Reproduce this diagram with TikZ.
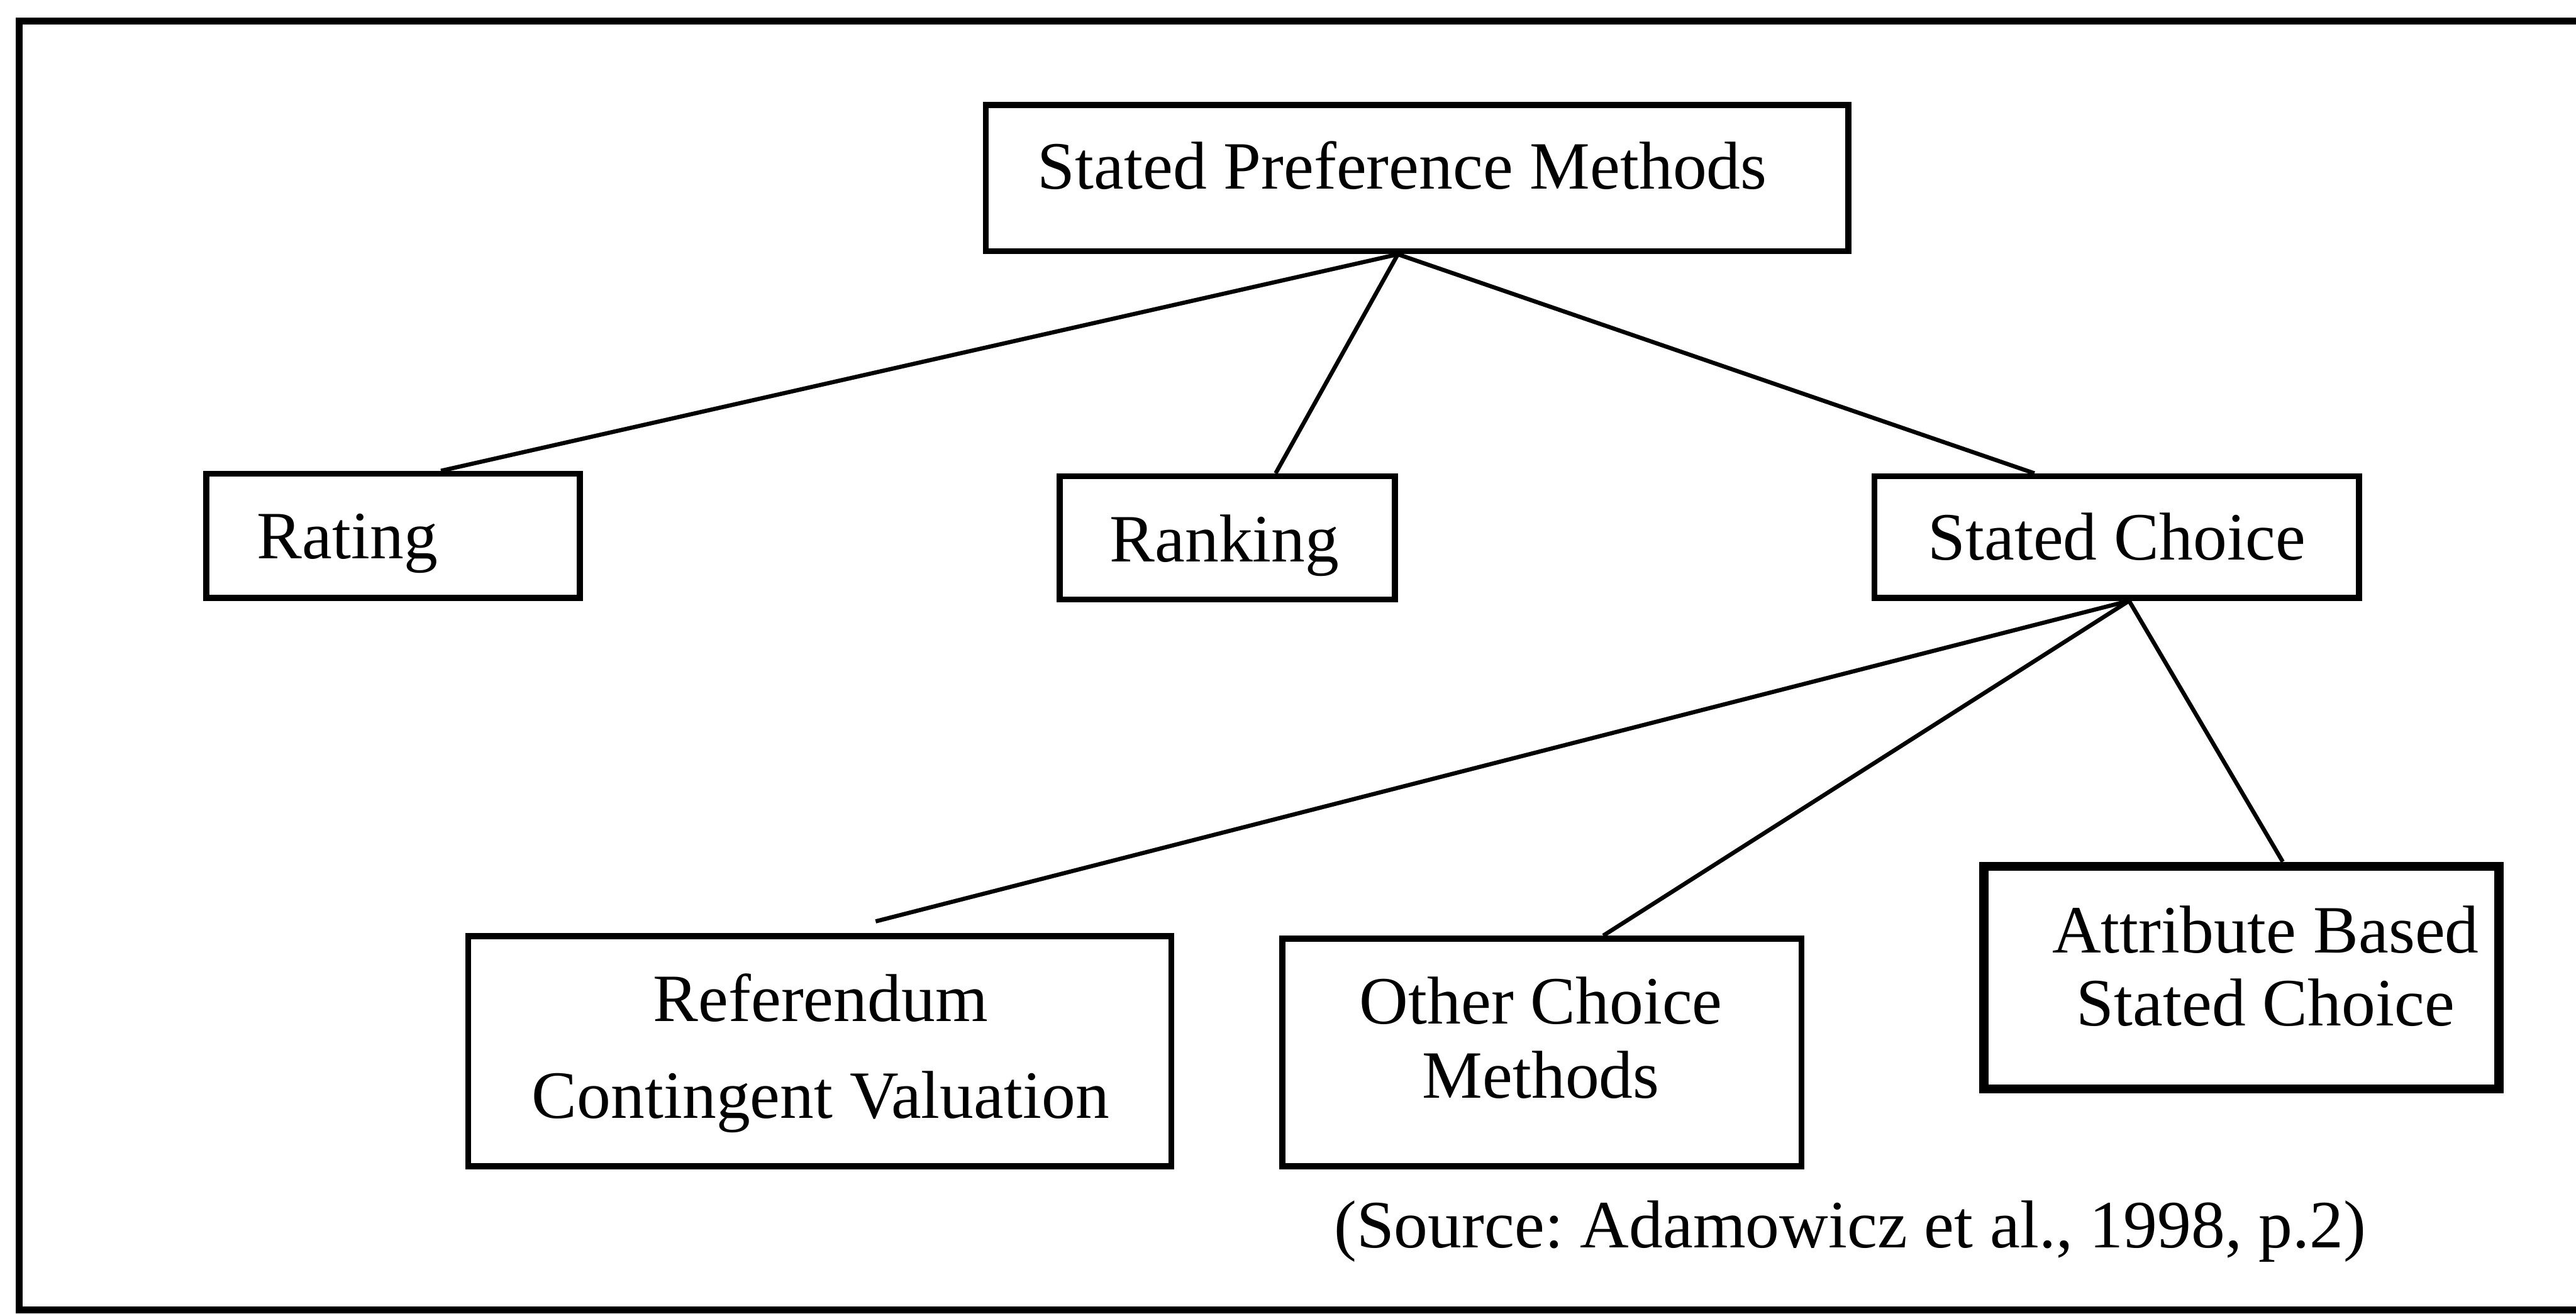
\documentclass[tikz,border=0pt]{standalone}
\usepackage{fontspec}
\setmainfont{Liberation Serif}
\frenchspacing
\usetikzlibrary{fit,calc}
\begin{document}
\begin{tikzpicture}[x=0.0125cm,y=-0.0125cm,
  box/.style={draw=black,line width=1.3pt,rectangle,inner sep=0pt},
  thickbox/.style={draw=black,line width=2pt,rectangle,inner sep=0pt},
  lbl/.style={inner sep=0pt,font=\fontsize{14.65}{17}\selectfont},
  conn/.style={draw=black,line width=0.9pt},
  frame/.style={draw=black,line width=1.5pt}]
\useasboundingbox (0,0) rectangle (1568,800);
% outer frame (right side not shown)
\coordinate (fTR) at (1580,13);
\coordinate (fTL) at (11.5,13);
\coordinate (fBL) at (11.5,797.5);
\coordinate (fBR) at (1580,797.5);
\draw[frame] (fTR) -- (fTL) -- (fBL) -- (fBR);
% boxes
\node[box,fit={(600,64) (1125,153)}] (spm) {};
\node[box,fit={(125.5,288.5) (353,364)}] (rat) {};
\node[box,fit={(645,290) (849,365)}] (rank) {};
\node[box,fit={(1141,290) (1436,364)}] (sc) {};
\node[box,fit={(285,570) (713,710)}] (ref) {};
\node[box,fit={(780.5,571.5) (1096.5,710)}] (oth) {};
\node[thickbox,fit={(1207.6,527.5) (1521,663)}] (abc) {};
% labels
\node[lbl,anchor=base west] (tspm) at (631,115) {Stated Preference Methods};
\node[lbl,anchor=base west] (trat) at (156,340) {Rating};
\node[lbl,anchor=base west] (trank) at (675,342) {Ranking};
\node[lbl,anchor=base west] (tsc) at (1173,341) {Stated Choice};
\node[lbl,anchor=base] (tref1) at (499.5,622) {Referendum};
\node[lbl,anchor=base] (tref2) at (499.5,681) {Contingent Valuation};
\node[lbl,anchor=base] (toth1) at (938,623.5) {Other Choice};
\node[lbl,anchor=base] (toth2) at (938,668.5) {Methods};
\node[lbl,anchor=base] (tabc1) at (1379,580) {Attribute Based};
\node[lbl,anchor=base] (tabc2) at (1379,624.5) {Stated Choice};
\node[lbl,anchor=base west] (tsrc) at (811.5,759.6) {(Source: Adamowicz et al., 1998, p.2)};
% connectors
\coordinate (spmB) at ($(spm.south west)!0.478!(spm.south east)$);
\coordinate (scB) at ($(sc.south west)!0.525!(sc.south east)$);
\coordinate (refEnd) at (533,561);
\draw[conn] (spmB) -- ($(rat.north west)!0.626!(rat.north east)$);
\draw[conn] (spmB) -- ($(rank.north west)!0.642!(rank.north east)$);
\draw[conn] (spmB) -- ($(sc.north west)!0.332!(sc.north east)$);
\draw[conn] (scB) -- (refEnd);
\draw[conn] (scB) -- ($(oth.north west)!0.617!(oth.north east)$);
\draw[conn] (scB) -- ($(abc.north west)!0.579!(abc.north east)$);
\end{tikzpicture}
\end{document}
